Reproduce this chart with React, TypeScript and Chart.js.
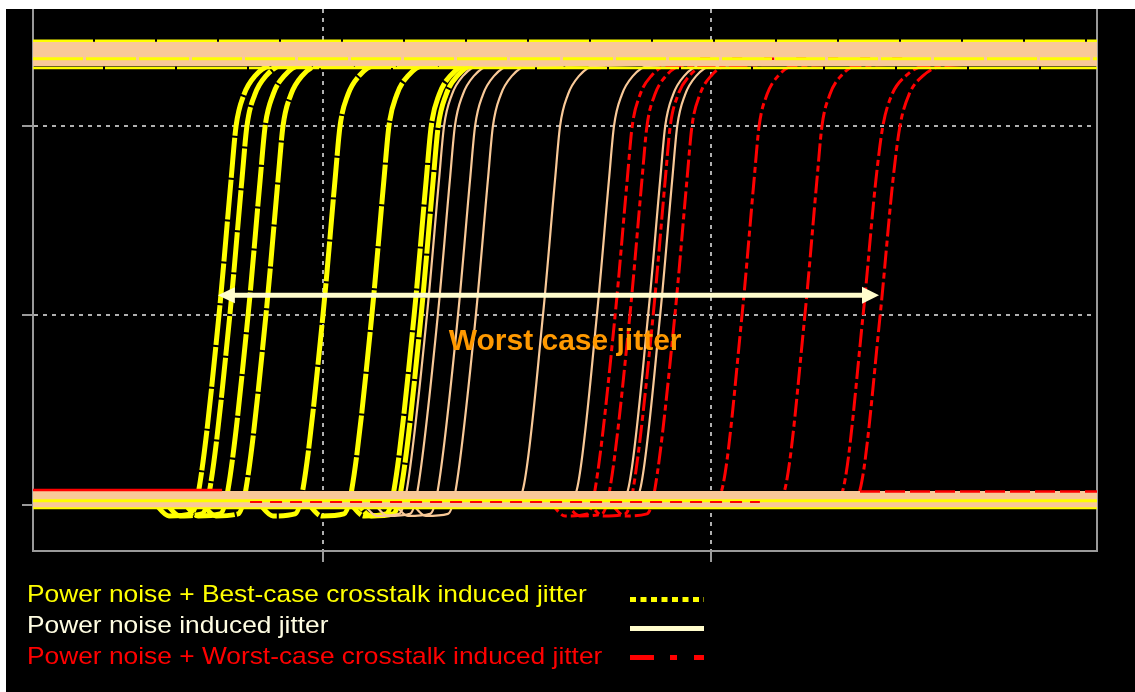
import React, { useEffect, useRef } from "react";
import { Chart, registerables } from "chart.js";

Chart.register(...registerables);

// ---- axes ----
const X_MIN = 25.26;
const X_MAX = 299.48;
const Y_MIN = -0.243;
const Y_MAX = 2.617;
const xTicks = [100, 200];
const yTicks = [0, 1, 2];

// ---- rising-edge levels (shared by each trace, first/last are the flat rails) ----
const dipLevels = [0.026, 0.026, -0.058, -0.047, 0.079, 1.003, 1.715, 2.0, 2.164, 2.264, 2.317, 2.338];
const flatLevels = [0.026, 0.026, 0.026, 0.026, 0.079, 1.003, 1.715, 2.0, 2.164, 2.264, 2.317, 2.338];

// ---- Power noise + Best-case crosstalk induced jitter (x of each edge point) ----
const bestCaseEdges = [
  [55.2, 60.3, 66.0, 68.0, 73.2, 76.3, 77.6, 79.6, 82.5, 86.6],
  [58.0, 63.1, 68.8, 70.8, 76.0, 79.1, 80.4, 82.4, 85.3, 89.4],
  [62.7, 67.8, 73.5, 75.5, 80.7, 83.8, 85.1, 87.1, 90.0, 94.1],
  [67.3, 72.4, 78.1, 80.1, 85.3, 88.4, 89.7, 91.7, 94.6, 98.7],
  [82.0, 87.1, 92.8, 94.8, 100.0, 103.1, 104.4, 106.4, 109.3, 113.4],
  [94.6, 99.7, 105.4, 107.4, 112.6, 115.7, 117.0, 119.0, 121.9, 126.0],
  [105.5, 110.6, 116.3, 118.3, 123.5, 126.6, 127.9, 129.9, 132.8, 136.9],
  [107.3, 112.4, 118.1, 120.1, 125.3, 128.4, 129.7, 131.7, 134.6, 138.7],
];
const bestCaseDip = [true, true, true, true, true, true, true, true];

// ---- Power noise induced jitter ----
const powerOnlyEdges = [
  [108.8, 113.9, 119.6, 121.6, 126.8, 129.9, 131.2, 133.2, 136.1, 140.2],
  [111.6, 116.7, 122.4, 124.4, 129.6, 132.7, 134.0, 136.0, 138.9, 143.0],
  [116.8, 121.9, 127.6, 129.6, 134.8, 137.9, 139.2, 141.2, 144.1, 148.2],
  [121.4, 126.5, 132.2, 134.2, 139.4, 142.5, 143.8, 145.8, 148.7, 152.8],
  [138.7, 143.8, 149.5, 151.5, 156.7, 159.8, 161.1, 163.1, 166.0, 170.1],
  [152.6, 157.7, 163.4, 165.4, 170.6, 173.7, 175.0, 177.0, 179.9, 184.0],
  [165.8, 170.9, 176.6, 178.6, 183.8, 186.9, 188.2, 190.2, 193.1, 197.2],
  [168.9, 174.0, 179.7, 181.7, 186.9, 190.0, 191.3, 193.3, 196.2, 200.3],
];
const powerOnlyDip = [true, true, true, true, false, false, false, false];

// ---- Power noise + Worst-case crosstalk induced jitter ----
const worstCaseEdges = [
  [157.3, 162.4, 168.1, 170.1, 175.3, 178.4, 179.7, 181.7, 184.6, 188.7],
  [161.1, 166.2, 171.9, 173.9, 179.1, 182.2, 183.5, 185.5, 188.4, 192.5],
  [167.1, 172.2, 177.9, 179.9, 185.1, 188.2, 189.5, 191.5, 194.4, 198.5],
  [172.7, 177.8, 183.5, 185.5, 190.7, 193.8, 195.1, 197.1, 200.0, 204.1],
  [190.0, 195.1, 200.8, 202.8, 208.0, 211.1, 212.4, 214.4, 217.3, 221.4],
  [206.2, 211.3, 217.0, 219.0, 224.2, 227.3, 228.6, 230.6, 233.5, 237.6],
  [221.2, 226.3, 232.0, 234.0, 239.2, 242.5, 244.3, 246.6, 250.2, 255.2],
  [225.6, 230.7, 236.4, 238.4, 243.6, 246.9, 248.7, 251.0, 254.6, 260.0],
];
const worstCaseDip = [true, true, true, true, false, false, false, false];

// ---- overlapping rail bands (level, start, end) ----
const bandLevels = [2.449, 2.354, 2.306, 2.354, 0.079, 0.016, 0.071, 0.022, -0.018, 2.38, 0.029];
const bandFrom = [X_MIN, X_MIN, X_MIN, 197.2, X_MIN, 81.2, 238.4, X_MIN, X_MIN, X_MIN, X_MIN];
const bandTo = [X_MAX, X_MAX, X_MAX, 252.6, 74.0, 212.6, X_MAX, X_MAX, X_MAX, X_MAX, X_MAX];

// ---- annotation ----
const arrowFrom = 72.9;
const arrowTo = 243.3;
const arrowLevel = 1.106;
const labelX = 162.4;
const labelLevel = 0.818;
const labelText = "Worst case jitter";

const legendLabels = [
  "Power noise + Best-case crosstalk induced jitter",
  "Power noise induced jitter",
  "Power noise + Worst-case crosstalk induced jitter",
];

// ---- styles ----
const YELLOW = "#ffff00";
const PEACH = "#f9c998";
const RED = "#ff0000";
const CREAM = "#fffccc";
const ORANGE = "#ff9900";
const AXIS = "#9a9a9a";
const GRID = "#b0b0b0";

const bandStyles = [
  { color: YELLOW, width: 2.5, dash: [60, 2] },
  { color: YELLOW, width: 3, dash: [50, 3] },
  { color: YELLOW, width: 2.5, dash: [70, 2] },
  { color: RED, width: 2.5, dash: [10, 22] },
  { color: RED, width: 2.5, dash: [] },
  { color: RED, width: 2, dash: [12, 8] },
  { color: RED, width: 2.5, dash: [20, 5] },
  { color: YELLOW, width: 3, dash: [] },
  { color: YELLOW, width: 2, dash: [] },
  { color: PEACH, width: 24.5, dash: [] },
  { color: PEACH, width: 17, dash: [] },
];

function edgeData(xs: number[], levels: number[]) {
  const all = [X_MIN, ...xs, X_MAX];
  return all.map((x, i) => ({ x, y: levels[i] }));
}

const overlayPlugin = {
  id: "overlay",
  afterDatasetsDraw(chart: any) {
    const { ctx } = chart;
    const xs = chart.scales.x;
    const ys = chart.scales.y;
    const x1 = xs.getPixelForValue(arrowFrom);
    const x2 = xs.getPixelForValue(arrowTo);
    const y = ys.getPixelForValue(arrowLevel);
    ctx.save();
    ctx.strokeStyle = CREAM;
    ctx.fillStyle = CREAM;
    ctx.lineWidth = 5;
    ctx.beginPath();
    ctx.moveTo(x1 + 12, y);
    ctx.lineTo(x2 - 12, y);
    ctx.stroke();
    ctx.beginPath();
    ctx.moveTo(x1, y);
    ctx.lineTo(x1 + 17, y - 8);
    ctx.lineTo(x1 + 17, y + 8);
    ctx.closePath();
    ctx.fill();
    ctx.beginPath();
    ctx.moveTo(x2, y);
    ctx.lineTo(x2 - 17, y - 8.5);
    ctx.lineTo(x2 - 17, y + 8.5);
    ctx.closePath();
    ctx.fill();
    ctx.font = "bold 30px 'Liberation Sans', Arial, sans-serif";
    ctx.fillStyle = ORANGE;
    ctx.textAlign = "center";
    ctx.textBaseline = "alphabetic";
    ctx.fillText(labelText, xs.getPixelForValue(labelX), ys.getPixelForValue(labelLevel));
    ctx.restore();
  },
  afterDraw(chart: any) {
    const { ctx } = chart;
    ctx.save();
    ctx.font = "24px 'Liberation Sans', Arial, sans-serif";
    ctx.textAlign = "left";
    ctx.textBaseline = "alphabetic";
    const colors = [YELLOW, "#fffde2", RED];
    const baselines = [593, 624, 655];
    legendLabels.forEach((t, i) => {
      ctx.save();
      ctx.translate(21, baselines[i]);
      ctx.scale(1.097, 1);
      ctx.fillStyle = colors[i];
      ctx.fillText(t, 0, 0);
      ctx.restore();
    });
    // samples
    ctx.lineWidth = 5;
    ctx.strokeStyle = YELLOW;
    ctx.setLineDash([6, 4.5]);
    ctx.beginPath();
    ctx.moveTo(624, 590.5);
    ctx.lineTo(698, 590.5);
    ctx.stroke();
    ctx.strokeStyle = CREAM;
    ctx.setLineDash([]);
    ctx.beginPath();
    ctx.moveTo(624, 619.5);
    ctx.lineTo(698, 619.5);
    ctx.stroke();
    ctx.strokeStyle = RED;
    ctx.setLineDash([24, 16, 7, 17]);
    ctx.beginPath();
    ctx.moveTo(624, 648.5);
    ctx.lineTo(698, 648.5);
    ctx.stroke();
    ctx.restore();
  },
};

export default function App() {
  const ref = useRef<HTMLCanvasElement | null>(null);
  useEffect(() => {
    if (!ref.current) return;
    const bandSets = bandLevels.map((lvl, i) => ({
      label: "band" + i,
      data: [
        { x: bandFrom[i], y: lvl },
        { x: bandTo[i], y: lvl },
      ],
      borderColor: bandStyles[i].color,
      borderWidth: bandStyles[i].width,
      borderDash: bandStyles[i].dash,
      borderCapStyle: "butt",
      pointRadius: 0,
      fill: false,
    }));
    const mk = (edges: number[][], dips: boolean[], color: string, width: number, dash: number[]) =>
      edges.map((xs, i) => ({
        label: "edge",
        data: edgeData(xs, dips[i] ? dipLevels : flatLevels),
        borderColor: color,
        borderWidth: width,
        borderDash: dash,
        pointRadius: 0,
        fill: false,
        cubicInterpolationMode: "monotone",
      }));
    const datasets = [
      ...bandSets,
      ...mk(worstCaseEdges, worstCaseDip, RED, 3, [18, 4, 6, 4]),
      ...mk(powerOnlyEdges, powerOnlyDip, PEACH, 2.2, []),
      ...mk(bestCaseEdges, bestCaseDip, YELLOW, 5, [40, 2]),
    ];
    const chart = new Chart(ref.current, {
      type: "line",
      data: { datasets: datasets as any },
      options: {
        animation: false,
        responsive: false,
        layout: { padding: { left: 16, right: 38, top: 0, bottom: 130 } },
        plugins: { legend: { display: false }, tooltip: { enabled: false } },
        scales: {
          x: {
            type: "linear",
            min: X_MIN,
            max: X_MAX,
            afterBuildTicks: (s: any) => {
              s.ticks = xTicks.map((v) => ({ value: v }));
            },
            ticks: { display: false },
            grid: { color: GRID, lineWidth: 2, tickColor: AXIS, tickLength: 11, tickWidth: 2, tickBorderDash: [] },
            border: { color: AXIS, width: 2, dash: [4, 5] },
          },
          y: {
            type: "linear",
            min: Y_MIN,
            max: Y_MAX,
            afterBuildTicks: (s: any) => {
              s.ticks = yTicks.map((v) => ({ value: v }));
            },
            ticks: { display: false },
            grid: { color: GRID, lineWidth: 2, tickColor: AXIS, tickLength: 11, tickWidth: 2, tickBorderDash: [] },
            border: { color: AXIS, width: 2, dash: [4, 5] },
          },
          y2: {
            type: "linear",
            position: "right",
            min: Y_MIN,
            max: Y_MAX,
            ticks: { display: false },
            grid: { display: false, drawTicks: false },
            border: { display: true, color: AXIS, width: 2 },
          },
        },
      } as any,
      plugins: [overlayPlugin],
    });
    return () => chart.destroy();
  }, []);
  return (
    <div style={{ position: "fixed", left: 6, top: 9, width: 1129, height: 683, background: "#000" }}>
      <canvas ref={ref} width={1129} height={683} style={{ display: "block", width: 1129, height: 683 }} />
    </div>
  );
}
